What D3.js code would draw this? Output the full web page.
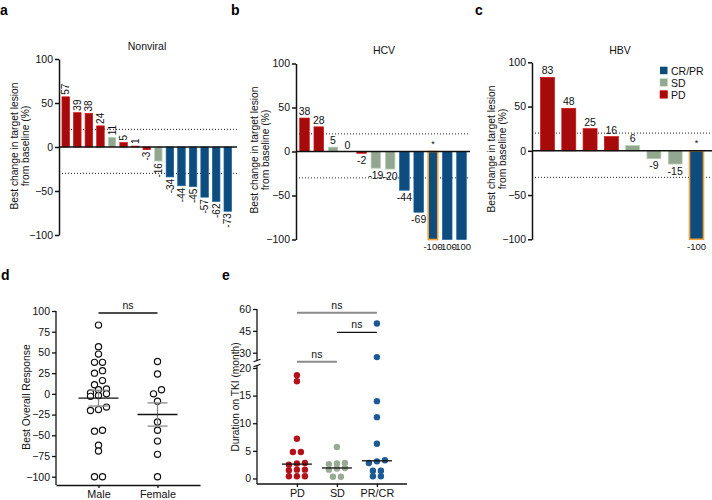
<!DOCTYPE html>
<html><head><meta charset="utf-8">
<script src="https://cdn.jsdelivr.net/npm/d3@7"></script>
<style>body{margin:0;background:#fff}svg{display:block}</style>
</head><body><svg id="chart" width="712" height="500"></svg>
<script>
// ---------------- data ----------------
const responseCategories = ["CR/PR", "SD", "PD"];
const nonviralValues = [57, 39, 38, 24, 11, 5, 1, -3, -16, -34, -44, -45, -57, -62, -73];
const nonviralResponse = ["PD","PD","PD","PD","SD","PD","PD","PD","SD","CR/PR","CR/PR","CR/PR","CR/PR","CR/PR","CR/PR"];
const hcvValues = [38, 28, 5, 0, -2, -19, -20, -44, -69, -100, -100, -100];
const hcvResponse = ["PD","PD","SD","SD","PD","SD","SD","CR/PR","CR/PR","CR/PR","CR/PR","CR/PR"];
const hcvMarked = [false,false,false,false,false,false,false,false,false,true,false,false];
const hbvValues = [83, 48, 25, 16, 6, -9, -15, -100];
const hbvResponse = ["PD","PD","PD","PD","SD","SD","SD","CR/PR"];
const hbvMarked = [false,false,false,false,false,false,false,true];
const waterfallTicks = [-100, -50, 0, 50, 100];
const waterfallRefLines = [20, -30];

const sexCategories = ["Male", "Female"];
const maleBOR = [83, 57, 48, 38, 38, 28, 25, 16, 11, 6, 5, 1, 0, -2, -3, -16, -19, -20, -44, -45, -62, -69, -100, -100];
const femaleBOR = [39, 24, 5, 0, -9, -34, -44, -57, -73, -100];
const borTicks = [-100, -75, -50, -25, 0, 25, 50, 75, 100];

const durationCategories = ["PD", "SD", "PR/CR"];
const pdDuration = [18.7, 17.6, 7.2, 4.8, 4.8, 2.8, 2.7, 2.5, 1.6, 1.6, 1.5, 0.4, 0.4, 0.4];
const sdDuration = [5.7, 2.8, 2.7, 2.6, 1.9, 1.8, 1.6, 0.3, 0.3];
const prcrDuration = [50, 27, 14.0, 11.1, 6.3, 3.3, 3.1, 2.8, 1.4, 1.4, 0.4, 0.4];
const durationTicksLow = [0, 5, 10, 15, 20];
const durationTicksHigh = [30, 45, 60];

// ---------------- setup ----------------
const FONT = '"Liberation Sans", Arial, Helvetica, sans-serif';
const svg = d3.select("#chart").attr("font-family", FONT);
const barColor = {"CR/PR": "#0f4c7e", "SD": "#93a68f", "PD": "#a70a0b"};
const dotColor = {"PD": "#b3111a", "SD": "#98aa95", "PR/CR": "#1b5a94"};
const TXT = "#111";

function letter(t, x, y) {
  svg.append("text").attr("x", x).attr("y", y).attr("font-size", 14)
    .attr("font-weight", "bold").attr("fill", "#000").text(t);
}
function styleAxis(g, fs) {
  g.attr("font-family", FONT);
  g.select(".domain").attr("stroke", "#111").attr("stroke-width", 1.5);
  g.selectAll(".tick line").attr("stroke", "#111").attr("stroke-width", 1.5);
  g.selectAll(".tick text").attr("font-size", fs).attr("fill", TXT);
}
function yTitle(lines, cy, fs) {
  lines.forEach(l => {
    svg.append("text").attr("transform", `translate(${l.x},${cy}) rotate(-90)`)
      .attr("text-anchor", "middle").attr("font-size", fs).attr("fill", TXT).text(l.t);
  });
}

function waterfall(o) {
  const g = svg.append("g");
  const x = d3.scaleBand().domain(d3.range(o.values.length)).range(o.xRange)
    .paddingInner(o.pi).paddingOuter(o.po);
  const y = d3.scaleLinear().domain([-100, 100]).range(o.yRange);
  waterfallRefLines.forEach(v => g.append("line")
    .attr("x1", o.axisX).attr("x2", o.endX).attr("y1", y(v)).attr("y2", y(v))
    .attr("stroke", "#222").attr("stroke-width", 1).attr("stroke-dasharray", "1,2"));
  g.selectAll("rect.bar").data(o.values).join("rect").attr("class", "bar")
    .attr("x", (d, i) => x(i)).attr("width", x.bandwidth())
    .attr("y", d => y(Math.max(0, d))).attr("height", d => Math.abs(y(d) - y(0)))
    .attr("fill", (d, i) => barColor[o.resp[i]])
    .attr("stroke", (d, i) => (o.marked && o.marked[i]) ? "#f0a23a" : d3.color(barColor[o.resp[i]]).brighter(0.7))
    .attr("stroke-width", (d, i) => (o.marked && o.marked[i]) ? 1.6 : 0.7);
  if (o.marked) o.values.forEach((d, i) => {
    if (o.marked[i]) g.append("text").attr("x", x(i) + x.bandwidth() / 2).attr("y", y(0) - 5)
      .attr("text-anchor", "middle").attr("font-size", 9).attr("fill", TXT).text("*");
  });
  g.append("line").attr("x1", o.axisX).attr("x2", o.endX).attr("y1", y(0)).attr("y2", y(0))
    .attr("stroke", "#111").attr("stroke-width", 1.6);
  o.values.forEach((d, i) => {
    const cx = x(i) + x.bandwidth() / 2;
    if (o.rotated) {
      const yy = d >= 0 ? y(d) - 2 : y(d) + 2;
      g.append("text").attr("transform", `translate(${cx},${yy}) rotate(-90)`)
        .attr("text-anchor", d >= 0 ? "start" : "end").attr("dy", "0.36em")
        .attr("font-size", o.labelSize).attr("fill", TXT).text(d);
    } else {
      const fs = d <= -100 ? o.labelSize - 1 : o.labelSize;
      g.append("text").attr("x", cx).attr("y", d >= 0 ? y(d) - 3 : y(d) + 10.5)
        .attr("text-anchor", "middle").attr("font-size", fs).attr("fill", TXT).text(d);
    }
  });
  const ax = g.append("g").attr("transform", `translate(${o.axisX},0)`)
    .call(d3.axisLeft(y).tickValues(waterfallTicks).tickSize(4).tickSizeOuter(0).tickPadding(2));
  styleAxis(ax, 10.5);
  svg.append("text").attr("x", o.titleX).attr("y", o.titleY).attr("text-anchor", "middle")
    .attr("font-size", 10.5).attr("fill", TXT).text(o.title);
  yTitle([{t: "Best change in target lesion", x: o.labX1}, {t: "from baseline (%)", x: o.labX2}], o.labCY, 10.3);
}

// ---------------- panels a, b, c ----------------
letter("a", 0, 15);
waterfall({values: nonviralValues, resp: nonviralResponse, xRange: [58.5, 235], pi: 0.35, po: 0.3,
  yRange: [235, 59], axisX: 59, endX: 237, rotated: true, labelSize: 10,
  title: "Nonviral", titleX: 147, titleY: 50, labX1: 17.5, labX2: 28.5, labCY: 146});
letter("b", 231, 15);
waterfall({values: hcvValues, resp: hcvResponse, marked: hcvMarked, xRange: [296, 470], pi: 0.33, po: 0.26,
  yRange: [239.5, 63.5], axisX: 296, endX: 470, rotated: false, labelSize: 10.5,
  title: "HCV", titleX: 384, titleY: 54, labX1: 257.5, labX2: 268.5, labCY: 150});
letter("c", 475, 15);
waterfall({values: hbvValues, resp: hbvResponse, marked: hbvMarked, xRange: [532, 712], pi: 0.343, po: 0.4,
  yRange: [239.3, 62.3], axisX: 532, endX: 712, rotated: false, labelSize: 10.5,
  title: "HBV", titleX: 620, titleY: 54, labX1: 495, labX2: 506, labCY: 149});

// legend
responseCategories.forEach((c, i) => {
  svg.append("rect").attr("x", 660).attr("y", 66.7 + i * 12).attr("width", 7.5).attr("height", 7.5)
    .attr("fill", barColor[c]).attr("stroke", c === "CR/PR" ? "none" : d3.color(barColor[c]).brighter(0.7)).attr("stroke-width", 0.6);
  svg.append("text").attr("x", 671).attr("y", 74.5 + i * 12).attr("font-size", 10.5).attr("fill", TXT).text(c);
});

// row layout (GraphPad-like scatter)
function rowLayout(values, yFn, cx, thresh, spacing) {
  const pts = values.map(v => ({v, y: yFn(v)})).sort((a, b) => a.y - b.y);
  const rows = []; let cur = null;
  pts.forEach(p => {
    if (cur && p.y - cur[0].y <= thresh) cur.push(p); else { cur = [p]; rows.push(cur); }
  });
  rows.forEach(r => {
    r.sort((a, b) => a.v - b.v);
    r.forEach((p, i) => p.x = cx + (i - (r.length - 1) / 2) * spacing);
  });
  return pts;
}

// ---------------- panel d ----------------
letter("d", 1, 280);
{
  const y = d3.scaleLinear().domain([-110, 100]).range([485, 311]);
  const x = d3.scalePoint().domain(sexCategories).range([56, 200]).padding(0.72);
  const groups = [maleBOR, femaleBOR];
  const g = svg.append("g");
  groups.forEach((vals, gi) => {
    const cx = x(sexCategories[gi]);
    const pts = rowLayout(vals, y, cx, 4.2, 8);
    g.selectAll(null).data(pts).join("circle").attr("cx", d => d.x).attr("cy", d => d.y).attr("r", 3.1)
      .attr("fill", "#fff").attr("stroke", "#111").attr("stroke-width", 1.2);
    const m = d3.mean(vals), sem = d3.deviation(vals) / Math.sqrt(vals.length);
    g.append("line").attr("x1", cx).attr("x2", cx).attr("y1", y(m + sem)).attr("y2", y(m - sem))
      .attr("stroke", "#8a8a8a").attr("stroke-width", 1.3);
    [m + sem, m - sem].forEach(v => g.append("line").attr("x1", cx - 10).attr("x2", cx + 10)
      .attr("y1", y(v)).attr("y2", y(v)).attr("stroke", "#8a8a8a").attr("stroke-width", 1.3));
    g.append("line").attr("x1", cx - 20).attr("x2", cx + 20).attr("y1", y(m)).attr("y2", y(m))
      .attr("stroke", "#111").attr("stroke-width", 1.4);
  });
  const ax = g.append("g").attr("transform", "translate(56,0)")
    .call(d3.axisLeft(y).tickValues(borTicks).tickSize(4).tickSizeOuter(0).tickPadding(2));
  ax.select(".domain").attr("d", `M0,${y(100)}V485`);
  styleAxis(ax, 10.5);
  ax.select(".domain").attr("stroke-width", 1.3); ax.selectAll(".tick line").attr("stroke-width", 1.3);
  const xa = g.append("g").attr("transform", "translate(0,485)")
    .call(d3.axisBottom(x).tickSize(3).tickSizeOuter(0).tickPadding(2));
  styleAxis(xa, 10.8);
  xa.select(".domain").attr("stroke-width", 1.3); xa.selectAll(".tick line").attr("stroke-width", 1.3);
  const x1 = x("Male"), x2 = x("Female");
  g.append("line").attr("x1", x1).attr("x2", x2).attr("y1", 313).attr("y2", 313).attr("stroke", "#111").attr("stroke-width", 1.5);
  g.append("text").attr("x", (x1 + x2) / 2).attr("y", 309).attr("text-anchor", "middle").attr("font-size", 10.5).attr("fill", TXT).text("ns");
  svg.append("text").attr("transform", "translate(29.5,397) rotate(-90)").attr("text-anchor", "middle")
    .attr("font-size", 10.3).attr("fill", TXT).text("Best Overall Response");
}

// ---------------- panel e ----------------
letter("e", 222, 280);
{
  const yLow = d3.scaleLinear().domain([-1, 20]).range([484, 368]);
  const yHigh = d3.scaleLinear().domain([25, 60]).range([360, 309]);
  const yF = v => v > 22 ? yHigh(v) : yLow(v);
  const x = d3.scalePoint().domain(durationCategories).range([257, 407]).padding(0.875).align(0.57);
  const groups = [pdDuration, sdDuration, prcrDuration];
  const g = svg.append("g");
  groups.forEach((vals, gi) => {
    const cat = durationCategories[gi], cx = x(cat);
    const pts = rowLayout(vals, yF, cx, 4.2, 8);
    g.selectAll(null).data(pts).join("circle").attr("cx", d => d.x).attr("cy", d => d.y).attr("r", 3.2)
      .attr("fill", dotColor[cat]);
    const med = d3.median(vals);
    g.append("line").attr("x1", cx - 15).attr("x2", cx + 15).attr("y1", yF(med)).attr("y2", yF(med))
      .attr("stroke", "#111").attr("stroke-width", 1.3);
  });
  const axL = g.append("g").attr("transform", "translate(257,0)")
    .call(d3.axisLeft(yLow).tickValues(durationTicksLow).tickSize(4).tickSizeOuter(0).tickPadding(2));
  axL.select(".domain").attr("d", "M0,484V365.5");
  styleAxis(axL, 10.5);
  const axH = g.append("g").attr("transform", "translate(257,0)")
    .call(d3.axisLeft(yHigh).tickValues(durationTicksHigh).tickSize(4).tickSizeOuter(0).tickPadding(2));
  axH.select(".domain").attr("d", "M0,360.5V309");
  styleAxis(axH, 10.5);
  [axL, axH].forEach(a => { a.select(".domain").attr("stroke-width", 1.3); a.selectAll(".tick line").attr("stroke-width", 1.3); });
  [360.5, 365.5].forEach(yy => g.append("line").attr("x1", 253.5).attr("x2", 260.5)
    .attr("y1", yy + 1.2).attr("y2", yy - 1.2).attr("stroke", "#111").attr("stroke-width", 1.2));
  const xa = g.append("g").attr("transform", "translate(0,484)")
    .call(d3.axisBottom(x).tickSize(3).tickSizeOuter(0).tickPadding(2));
  styleAxis(xa, 10.8);
  xa.select(".domain").attr("d", "M257,0H407").attr("stroke-width", 1.3);
  xa.selectAll(".tick line").attr("stroke-width", 1.3);
  const sig = [
    {a: "PD", b: "PR/CR", y: 312.7, c: "#8a8a8a", w: 2},
    {a: "SD", b: "PR/CR", y: 332.3, c: "#111", w: 1.2},
    {a: "PD", b: "SD", y: 361.7, c: "#8a8a8a", w: 2}
  ];
  sig.forEach(s => {
    g.append("line").attr("x1", x(s.a)).attr("x2", x(s.b)).attr("y1", s.y).attr("y2", s.y)
      .attr("stroke", s.c).attr("stroke-width", s.w);
    g.append("text").attr("x", (x(s.a) + x(s.b)) / 2).attr("y", s.y - 4).attr("text-anchor", "middle")
      .attr("font-size", 10.5).attr("fill", TXT).text("ns");
  });
  svg.append("text").attr("transform", "translate(238.5,397) rotate(-90)").attr("text-anchor", "middle")
    .attr("font-size", 10.2).attr("fill", TXT).text("Duration on TKI (month)");
}
</script></body></html>
